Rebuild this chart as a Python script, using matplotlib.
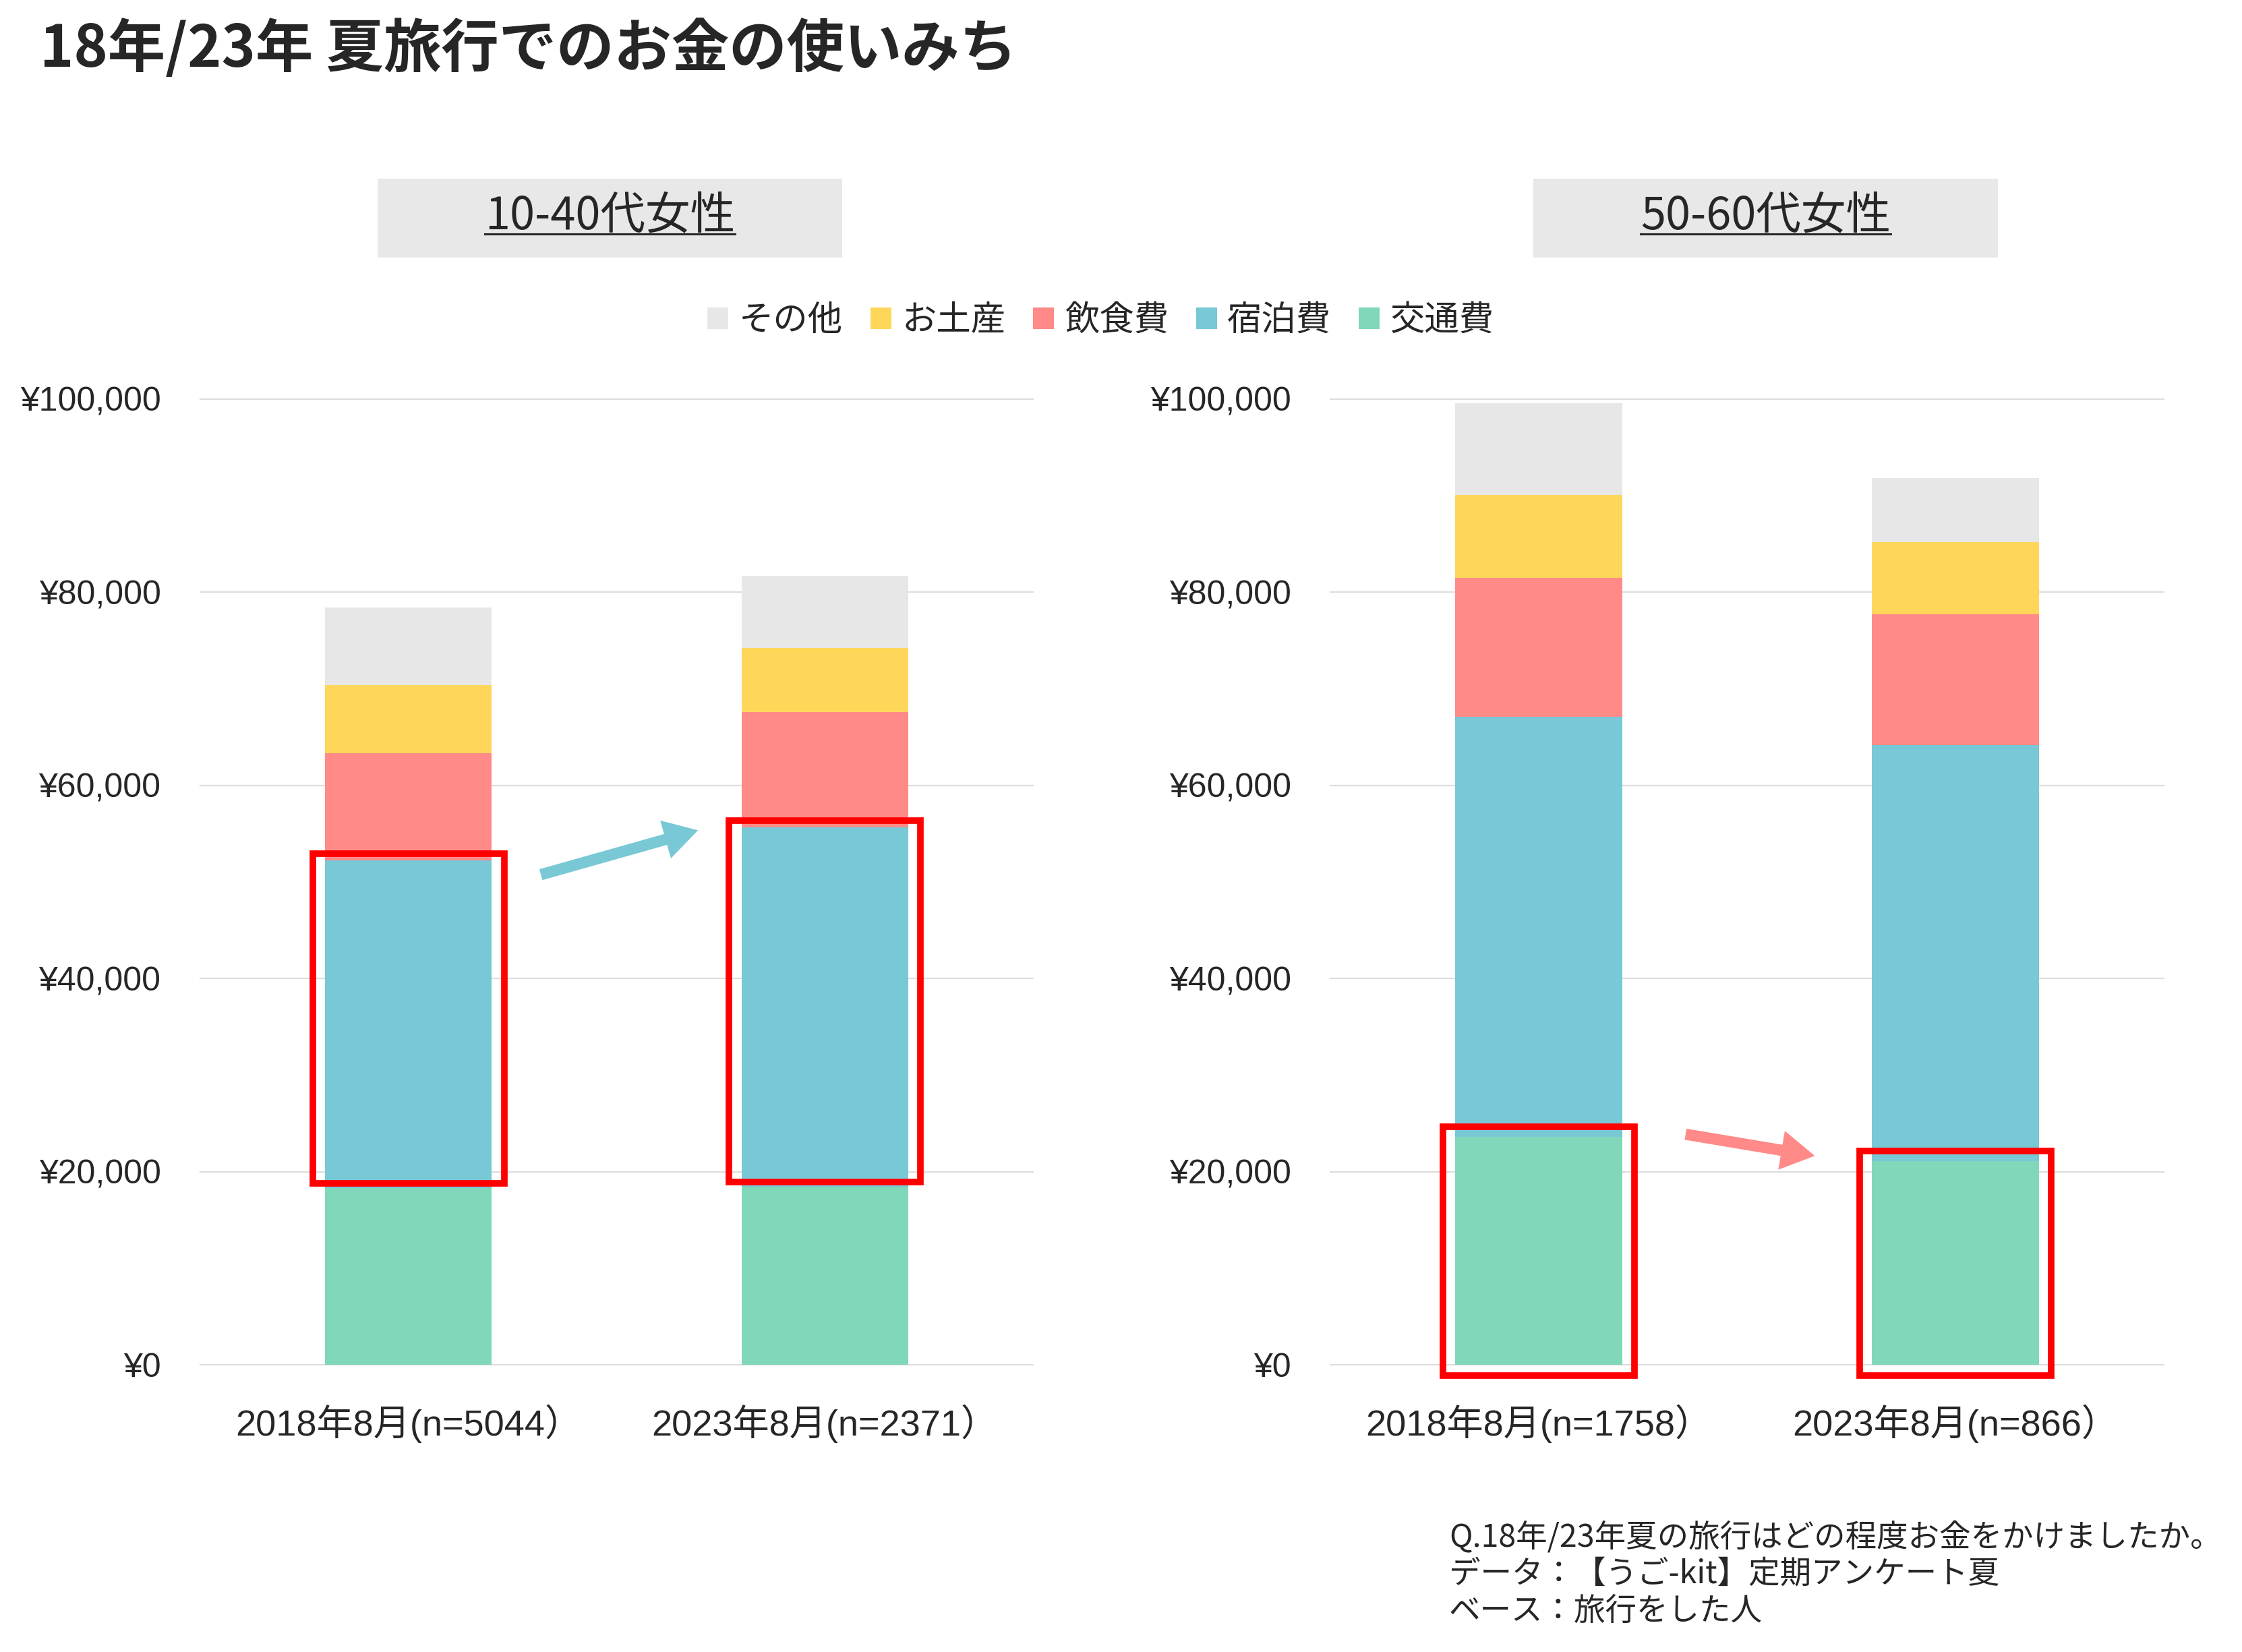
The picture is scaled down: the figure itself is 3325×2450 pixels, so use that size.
import matplotlib
matplotlib.use('Agg')
import numpy as np
import matplotlib.pyplot as plt
from matplotlib.patches import Rectangle, Patch, FancyArrowPatch
from matplotlib.lines import Line2D
from matplotlib.ticker import FuncFormatter

plt.rcParams['font.family'] = ['Noto Sans CJK JP', 'DejaVu Sans']
LATIN = ['Liberation Sans', 'Noto Sans CJK JP']
TXT = '#262626'

# stack order: bottom -> top
categories = ['交通費', '宿泊費', '飲食費', 'お土産', 'その他']
colors = ['#80D7BA', '#78C8D6', '#FF8A88', '#FED75A', '#E7E7E7']

# 10-40代女性
young_labels = ['2018年8月(n=5044）', '2023年8月(n=2371）']
young_2018 = [18300, 33960, 11040, 7100, 8000]
young_2023 = [18440, 37220, 11940, 6600, 7500]

# 50-60代女性
senior_labels = ['2018年8月(n=1758）', '2023年8月(n=866）']
senior_2018 = [23630, 43470, 14400, 8600, 9500]
senior_2023 = [21110, 43090, 13500, 7500, 6600]

yticks = [0, 20000, 40000, 60000, 80000, 100000]

fig = plt.figure(figsize=(33.25, 24.5), dpi=100)

fig.text(0.0177, 0.970, '18年/23年 夏旅行でのお金の使いみち', fontsize=61.5,
         fontweight='bold', color=TXT, ha='left', va='center')


def panel(rect, labels, series, hl, pad_top, pad_bot, arrow, arrow_color):
    ax = fig.add_axes(rect)
    x = np.arange(len(labels))
    bottoms = np.zeros(len(labels))
    for i, c in enumerate(categories):
        vals = np.array([s[i] for s in series])
        ax.bar(x, vals, 0.4, bottom=bottoms, color=colors[i], zorder=2)
        if i == hl:
            for xi, b, v in zip(x, bottoms, vals):
                ax.add_patch(Rectangle((xi - 0.23, b - pad_bot), 0.46,
                                       v + pad_top + pad_bot, fill=False,
                                       edgecolor='#FF0000', lw=7,
                                       zorder=4, clip_on=False))
        bottoms = bottoms + vals
    ax.set_xlim(-0.5, 1.5)
    ax.set_ylim(0, 100000)
    ax.set_yticks(yticks)
    ax.yaxis.set_major_formatter(FuncFormatter(lambda v, p: '¥{:,.0f}'.format(v)))
    ax.set_xticks(x)
    ax.set_xticklabels(labels, family=LATIN, fontsize=39, color=TXT)
    ax.grid(axis='y', color='#DDDDDD', lw=1.6)
    ax.set_axisbelow(True)
    for gl in ax.get_ygridlines():
        gl.set_clip_on(False)
    for s in ax.spines.values():
        s.set_visible(False)
    ax.tick_params(axis='y', length=0, pad=42, labelsize=36, labelcolor=TXT)
    ax.tick_params(axis='x', length=0, pad=42)
    for t in ax.get_yticklabels():
        t.set_family(LATIN)
    (x0, y0), (x1, y1) = arrow
    ax.add_patch(FancyArrowPatch((x0, y0), (x1, y1),
                                 arrowstyle='simple,head_width=4.2,head_length=3.6,tail_width=1.2',
                                 mutation_scale=10, color=arrow_color, lw=0,
                                 zorder=5, clip_on=False))
    return ax


panel([0.0893, 0.1739, 0.3714, 0.5845], young_labels, [young_2018, young_2023],
      1, 700, -450, ((0.314, 50700), (0.70, 55400)), '#78C8D6')
panel([0.5934, 0.1739, 0.3717, 0.5845], senior_labels, [senior_2018, senior_2023],
      0, 1000, 1100, ((0.348, 23900), (0.667, 21600)), '#FF8A88')

# panel headers
headers = []
for bx, name in [(0.1684, '10-40代女性'), (0.6839, '50-60代女性')]:
    fig.patches.append(Rectangle((bx, 0.8441), 0.2072, 0.0478, transform=fig.transFigure,
                                 facecolor='#E8E8E8', edgecolor='none'))
    headers.append(fig.text(bx + 0.1036, 0.869, name, fontsize=48, color=TXT,
                            ha='center', va='center'))

fig.canvas.draw()
inv = fig.transFigure.inverted()
for t in headers:
    bb = t.get_window_extent()
    (l, _), (r, _) = inv.transform([[bb.x0, bb.y0], [bb.x1, bb.y1]])
    fig.add_artist(Line2D([l, r], [0.8584, 0.8584], transform=fig.transFigure,
                          color=TXT, lw=2.2))

handles = [Patch(facecolor=colors[i], edgecolor='none') for i in range(4, -1, -1)]
labels = [categories[i] for i in range(4, -1, -1)]
fig.legend(handles, labels, loc='center', bbox_to_anchor=(0.491, 0.806), ncol=5,
           frameon=False, fontsize=37, handlelength=0.6, handleheight=0.6,
           handletextpad=0.3, columnspacing=0.8, labelcolor=TXT)

notes = ['Q.18年/23年夏の旅行はどの程度お金をかけましたか。',
         'データ：【うご-kit】定期アンケート夏',
         'ベース：旅行をした人']
for i, s in enumerate(notes):
    fig.text(0.6463, 0.0695 - i * 0.0225, s, fontsize=33.5, color=TXT,
             ha='left', va='center', family=LATIN[::-1])

fig.savefig('out.png', dpi=100)
